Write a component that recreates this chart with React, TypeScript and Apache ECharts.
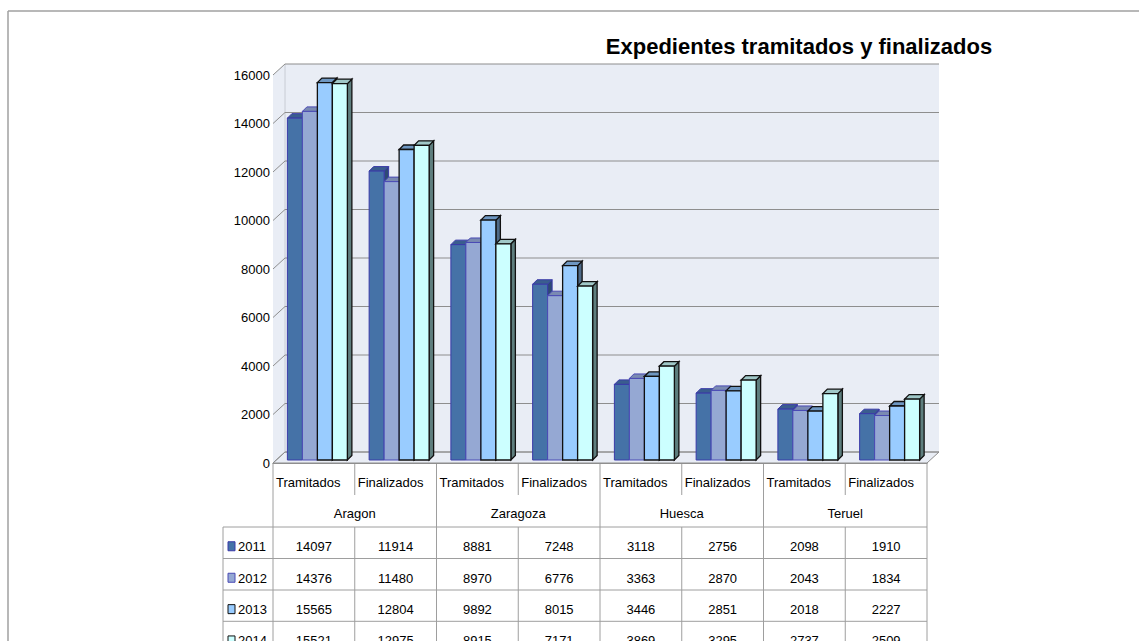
import React, { useEffect, useRef } from "react";
import * as echarts from "echarts";

// ---------- data ----------
const regions = ["Aragon", "Zaragoza", "Huesca", "Teruel"];
const kinds = ["Tramitados", "Finalizados"];
const categories = regions.flatMap((r) => kinds.map((k) => r + " " + k));
const years = ["2011", "2012", "2013", "2014"];
const values2011 = [14097, 11914, 8881, 7248, 3118, 2756, 2098, 1910];
const values2012 = [14376, 11480, 8970, 6776, 3363, 2870, 2043, 1834];
const values2013 = [15565, 12804, 9892, 8015, 3446, 2851, 2018, 2227];
const values2014 = [15521, 12975, 8915, 7171, 3869, 3295, 2737, 2509];
const seriesValues = [values2011, values2012, values2013, values2014];
const yTicks = [0, 2000, 4000, 6000, 8000, 10000, 12000, 14000, 16000];
const titleText = "Expedientes tramitados y finalizados";

// ---------- styles / layout ----------
const FONT = "'Liberation Sans', Arial, sans-serif";
const GL = 273, GR = 927, GT = 75, GB = 463;
const DX = 12, DY = 11;
const BAR_W = 15, BAR_OFF = -26.5, SHIFT_Y = 3, BD = 4.5;
const fronts = ["#4572A7", "#95A8D3", "#99CCFF", "#CCFFFF"];
const tops = ["#3A5D8E", "#7A8AB2", "#6E97C2", "#A0C8C8"];
const sides = ["#2E4A74", "#68779A", "#4E6A88", "#5E7E7E"];
const strokes = ["#3A3AA8", "#4A4AB4", "#111111", "#111111"];
const WALL = "#E9EDF5";
const GRIDC = "#8E8E8E";
const TABLEC = "#9E9E9E";

const COL_W = (GR - GL) / 8;
const ROW_TOPS = [527, 558.5, 590, 621.3, 652.6];

function wallsRender(params: any, api: any) {
  const cs = params.coordSys;
  const x0 = cs.x, x1 = cs.x + cs.width;
  const y0 = api.coord([0, 0])[1];
  const yMax = api.coord([0, yTicks[yTicks.length - 1]])[1];
  const children: any[] = [];
  children.push({
    type: "rect",
    shape: { x: x0 + DX, y: yMax - DY, width: x1 - x0, height: y0 - yMax },
    style: { fill: WALL },
  });
  children.push({
    type: "polygon",
    shape: { points: [[x0, y0], [x0 + DX, y0 - DY], [x0 + DX, yMax - DY], [x0, yMax]] },
    style: { fill: WALL },
  });
  children.push({
    type: "polygon",
    shape: { points: [[x0, y0], [x1, y0], [x1 + DX, y0 - DY], [x0 + DX, y0 - DY]] },
    style: { fill: WALL, stroke: GRIDC, lineWidth: 1 },
  });
  children.push({
    type: "line",
    shape: { x1: x0 + DX, y1: y0 - DY, x2: x0 + DX, y2: yMax - DY },
    style: { stroke: "#C8CCD4", lineWidth: 1 },
  });
  for (const v of yTicks) {
    const y = api.coord([0, v])[1];
    children.push({
      type: "line",
      shape: { x1: x0 + DX, y1: y - DY, x2: x1 + DX, y2: y - DY },
      style: { stroke: GRIDC, lineWidth: 1.2 },
    });
    children.push({
      type: "line",
      shape: { x1: x0, y1: y, x2: x0 + DX, y2: y - DY },
      style: { stroke: GRIDC, lineWidth: 1 },
    });
  }
  return { type: "group", children };
}

function makeBarRender(k: number) {
  return (params: any, api: any) => {
    const idx = api.value(0);
    const v = api.value(1);
    const pTop = api.coord([idx, v]);
    const pBase = api.coord([idx, 0]);
    const x = pTop[0] + BAR_OFF + k * BAR_W;
    const yt = pTop[1] - SHIFT_Y;
    const yb = pBase[1] - SHIFT_Y;
    const lw = k >= 2 ? 1.3 : 1;
    return {
      type: "group",
      children: [
        {
          type: "polygon",
          shape: { points: [[x + BAR_W, yt], [x + BAR_W + BD, yt - BD], [x + BAR_W + BD, yb - BD], [x + BAR_W, yb]] },
          style: { fill: sides[k], stroke: strokes[k], lineWidth: lw },
        },
        {
          type: "polygon",
          shape: { points: [[x, yt], [x + BAR_W, yt], [x + BAR_W + BD, yt - BD], [x + BD, yt - BD]] },
          style: { fill: tops[k], stroke: strokes[k], lineWidth: lw },
        },
        {
          type: "rect",
          shape: { x, y: yt, width: BAR_W, height: yb - yt },
          style: { fill: fronts[k], stroke: strokes[k], lineWidth: lw },
        },
      ],
    };
  };
}

function buildTable(): any[] {
  const els: any[] = [];
  const line = (x1: number, y1: number, x2: number, y2: number) =>
    els.push({ type: "line", shape: { x1, y1, x2, y2 }, style: { stroke: TABLEC, lineWidth: 1 }, silent: true });
  const text = (t: string, x: number, y: number, align: string) =>
    els.push({
      type: "text",
      x, y,
      style: { text: t, fill: "#000", font: "13px " + FONT, textAlign: align, textVerticalAlign: "middle" },
      silent: true,
    });
  // vertical lines
  for (let c = 0; c <= 8; c++) {
    const x = GL + c * COL_W;
    if (c % 2 === 0) line(x, GB, x, 641);
    else {
      line(x, GB, x, 495);
      line(x, ROW_TOPS[0], x, 641);
    }
  }
  line(223, ROW_TOPS[0], 223, 641);
  for (let r = 0; r < 4; r++) line(223, ROW_TOPS[r], GR, ROW_TOPS[r]);
  // category & region labels
  categories.forEach((_, i) => {
    text(kinds[i % 2], GL + i * COL_W + 3, 482, "left");
  });
  regions.forEach((r, i) => {
    text(r, GL + (2 * i + 1) * COL_W, 513, "center");
  });
  // rows
  seriesValues.forEach((vals, k) => {
    const yMid = (ROW_TOPS[k] + ROW_TOPS[k + 1]) / 2 + 4;
    els.push({
      type: "rect",
      shape: { x: 228, y: yMid - 5, width: 7, height: 9 },
      style: { fill: fronts[k], stroke: strokes[k], lineWidth: 1 },
      silent: true,
    });
    text(years[k], 238, yMid, "left");
    vals.forEach((v, i) => text(String(v), GL + (i + 0.5) * COL_W, yMid, "center"));
  });
  return els;
}

export default function App() {
  const ref = useRef<HTMLDivElement>(null);
  useEffect(() => {
    if (!ref.current) return;
    const chart = echarts.init(ref.current, null, { renderer: "svg" });
    const option: any = {
      animation: false,
      backgroundColor: "#ffffff",
      grid: { left: GL, top: GT, width: GR - GL, height: GB - GT, containLabel: false },
      xAxis: {
        type: "category",
        data: categories,
        axisLine: { show: true, lineStyle: { color: GRIDC, width: 1 } },
        axisTick: { show: false },
        axisLabel: { show: false },
        splitLine: { show: false },
      },
      yAxis: {
        type: "value",
        min: 0,
        max: 16000,
        interval: 2000,
        axisLine: { show: true, lineStyle: { color: GRIDC, width: 1 } },
        axisTick: { show: false },
        axisLabel: {
          color: "#000",
          fontSize: 13,
          fontFamily: FONT,
          margin: 3,
          formatter: (v: number) => String(v),
        },
        splitLine: { show: false },
      },
      series: [
        {
          type: "custom",
          name: "walls",
          renderItem: wallsRender,
          data: [[0, 0]],
          encode: { x: 0, y: 1 },
          clip: false,
          silent: true,
          z: 1,
        },
        ...seriesValues.map((vals, k) => ({
          type: "custom",
          name: years[k],
          renderItem: makeBarRender(k),
          data: vals.map((v, i) => [i, v]),
          encode: { x: 0, y: 1 },
          clip: false,
          z: 3,
        })),
      ],
      graphic: [
        {
          type: "line",
          shape: { x1: 8, y1: 11, x2: 1139, y2: 11 },
          style: { stroke: "#A0A0A0", lineWidth: 1.5 },
          silent: true,
        },
        {
          type: "line",
          shape: { x1: 8, y1: 11, x2: 8, y2: 641 },
          style: { stroke: "#A0A0A0", lineWidth: 1.5 },
          silent: true,
        },
        {
          type: "text",
          x: 799,
          y: 46,
          style: {
            text: titleText,
            fill: "#000",
            font: "bold 22px " + FONT,
            textAlign: "center",
            textVerticalAlign: "middle",
          },
          silent: true,
        },
        ...buildTable(),
      ],
    };
    chart.setOption(option);
    return () => chart.dispose();
  }, []);
  return (
    <div
      ref={ref}
      style={{ position: "fixed", left: 0, top: 0, width: 1139, height: 641, background: "#fff" }}
    />
  );
}
